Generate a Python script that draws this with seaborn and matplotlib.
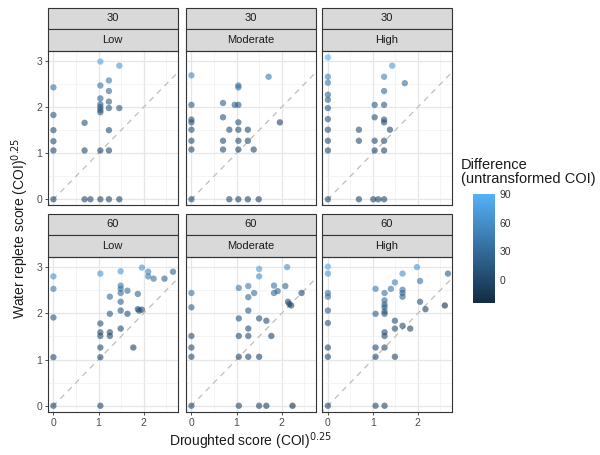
import numpy as np
import pandas as pd
import seaborn as sns
import matplotlib
matplotlib.use("Agg")
import matplotlib.pyplot as plt
from matplotlib.colors import LinearSegmentedColormap, Normalize
from matplotlib.patches import Rectangle
import matplotlib.cm as cm

sns.set_theme(style="white")
plt.rcParams['font.family'] = ['Liberation Sans', 'DejaVu Sans']

days = ["30", "60"]
levels = ["Low", "Moderate", "High"]

# Droughted (x) and water replete (y) scores, (COI)^0.25, read per panel
d30_low_x = [1.04, 1.46, 0, 1.04, 1.23, 1.23, 1.04, 1.04, 1.04, 1.04, 1.04, 1.23, 1.23, 1.46, 0, 0.69, 0, 1.23,
             0, 0, 0.69, 1.04, 1.23, 0, 0.69, 0.82, 1.04, 1.23, 1.46]
d30_low_y = [2.99, 2.90, 2.43, 2.47, 2.58, 2.35, 2.19, 2.06, 2.00, 1.94, 1.89, 2.12, 1.98, 1.98, 1.83, 1.66, 1.50, 1.50,
             1.26, 1.06, 1.06, 1.06, 1.06, 0, 0, 0, 0, 0, 0]

d30_mod_x = [0, 1.71, 1.04, 1.04, 0, 0.70, 0.96, 1.04, 0.70, 0, 0, 1.04, 1.96, 0, 0.84, 1.04, 1.25,
             0, 0.70, 1.04, 1.25, 0, 0.70, 1.04, 1.38, 0, 0.84, 1.04, 1.25, 1.49]
d30_mod_y = [2.69, 2.66, 2.47, 2.43, 2.05, 2.09, 2.05, 2.05, 1.78, 1.73, 1.67, 1.67, 1.67, 1.51, 1.51, 1.51, 1.51,
             1.27, 1.27, 1.27, 1.27, 1.08, 1.08, 1.08, 1.08, 0, 0, 0, 0, 0]

d30_high_x = [0, 1.43, 0, 0, 1.25, 1.71, 1.25, 0, 0, 0, 1.04, 1.25, 0, 1.04, 1.25, 1.25, 0, 0.69, 1.38,
              0, 0.69, 1.04, 1.25, 0, 1.04, 1.25, 0, 0.69, 1.01, 1.12, 1.25]
d30_high_y = [3.08, 2.90, 2.66, 2.53, 2.66, 2.52, 2.35, 2.27, 2.16, 1.98, 2.05, 2.05, 1.74, 1.78, 1.73, 1.67, 1.51, 1.51, 1.51,
              1.27, 1.27, 1.27, 1.27, 1.06, 1.06, 1.06, 0, 0, 0, 0, 0]

d60_low_x = [0, 0, 0, 0, 0, 1.04, 1.04, 1.04, 1.04, 1.04, 1.04, 1.04, 1.25, 1.25, 1.25, 1.25, 1.49, 1.49, 1.49, 1.49,
             1.49, 1.49, 1.49, 1.64, 1.64, 1.77, 1.87, 1.87, 1.90, 1.96, 1.96, 2.10, 2.10, 2.22, 2.46, 2.65]
d60_low_y = [2.80, 2.53, 1.91, 1.05, 0, 2.86, 0, 1.05, 1.26, 1.78, 1.59, 1.51, 1.59, 1.51, 1.99, 2.36, 2.91, 2.60, 2.53, 2.44,
             2.25, 2.06, 1.67, 2.49, 1.99, 1.26, 2.42, 2.09, 2.06, 2.08, 2.99, 2.90, 2.80, 2.75, 2.75, 2.90]

d60_mod_x = [1.50, 2.12, 1.50, 1.05, 1.26, 1.39, 1.83, 1.83, 1.91, 2.08, 2.44, 0, 0, 1.26, 1.26, 2.14, 2.17, 2.21,
             1.05, 1.50, 1.66, 1.26, 0, 1.05, 1.26, 1.77, 0, 0, 1.05, 1.26, 1.50, 0, 1.05, 1.50, 1.66, 2.24]
d60_mod_y = [2.96, 3.00, 2.80, 2.55, 2.59, 2.44, 2.60, 2.44, 2.48, 2.59, 2.44, 2.44, 2.13, 2.35, 2.06, 2.25, 2.20, 2.17,
             1.89, 1.89, 1.84, 1.67, 1.51, 1.51, 1.51, 1.51, 1.26, 1.06, 1.06, 1.06, 1.06, 0, 0, 0, 0, 0]

d60_high_x = [0, 0, 1.98, 2.67, 1.66, 2.05, 1.49, 1.40, 1.06, 1.26, 1.66, 1.66, 1.66, 0, 0, 1.26, 1.26, 1.26, 2.05, 2.60,
              2.17, 0, 1.26, 1.26, 1.06, 0, 1.49, 1.49, 1.66, 1.83, 1.26, 1.26, 0, 1.06, 1.26, 0, 1.06, 1.49, 0, 1.06, 1.26]
d60_high_y = [3.01, 2.86, 3.00, 2.86, 2.86, 2.70, 2.67, 2.53, 2.53, 2.44, 2.51, 2.44, 2.36, 2.44, 2.36, 2.28, 2.19, 2.13, 2.25, 2.17,
              2.09, 2.06, 2.04, 1.99, 1.99, 1.79, 1.84, 1.67, 1.73, 1.67, 1.59, 1.51, 1.26, 1.26, 1.26, 1.06, 1.06, 1.06, 0, 0, 0]

colour_ticks = [0, 30, 60, 90]
x_ticks = [0, 1, 2]
y_ticks = [0, 1, 2, 3]

panels = {
    ("30", "Low"): (d30_low_x, d30_low_y),
    ("30", "Moderate"): (d30_mod_x, d30_mod_y),
    ("30", "High"): (d30_high_x, d30_high_y),
    ("60", "Low"): (d60_low_x, d60_low_y),
    ("60", "Moderate"): (d60_mod_x, d60_mod_y),
    ("60", "High"): (d60_high_x, d60_high_y),
}

frames = []
for (d, lv), (xs, ys) in panels.items():
    frames.append(pd.DataFrame({"days": d, "level": lv, "drought": xs, "water": ys}))
df = pd.concat(frames, ignore_index=True)
df["diff"] = df["water"] ** 4 - df["drought"] ** 4

cmap = LinearSegmentedColormap.from_list("gg", ["#132B43", "#56B1F7"])
norm = Normalize(vmin=-24, vmax=90)

W, H = 600, 455
fig = plt.figure(figsize=(W / 100, H / 100), dpi=100)


def fbox(x0, y0, x1, y1):
    return [x0 / W, 1 - y1 / H, (x1 - x0) / W, (y1 - y0) / H]


col_x = [(47.5, 178), (185.5, 316), (322, 452)]
row_y = [(50.5, 205.5), (256.5, 412)]
strip_h = 21.5

for r, d in enumerate(days):
    for c, lv in enumerate(levels):
        x0, x1 = col_x[c]
        y0, y1 = row_y[r]
        ax = fig.add_axes(fbox(x0, y0, x1, y1))
        sub = df[(df["days"] == d) & (df["level"] == lv)]
        ax.set_xlim(-0.131, 2.76)
        ax.set_ylim(-0.135, 3.23)
        ax.set_xticks(x_ticks)
        ax.set_yticks(y_ticks)
        ax.set_xticks([0.5, 1.5, 2.5], minor=True)
        ax.set_yticks([0.5, 1.5, 2.5], minor=True)
        ax.grid(True, which="major", color="#E6E6E6", lw=0.9)
        ax.grid(True, which="minor", color="#F0F0F0", lw=0.5)
        ax.set_axisbelow(True)
        ax.plot([-1, 4], [-1, 4], ls=(0, (4.5, 4)), color="#BDBDBD", lw=0.9, zorder=1)
        sns.scatterplot(data=sub, x="drought", y="water", hue="diff", palette=cmap, hue_norm=norm,
                        s=21, alpha=0.6, edgecolor="none", linewidth=0, legend=False, ax=ax, zorder=3)
        ax.set_xlabel("")
        ax.set_ylabel("")
        for sp in ax.spines.values():
            sp.set_color("#333333")
            sp.set_linewidth(0.8)
        ax.tick_params(which="minor", length=0)
        ax.tick_params(which="major", length=2.5, width=0.6, color="#333333",
                       labelsize=7.5, labelcolor="#4D4D4D", pad=1.5,
                       left=(c == 0), bottom=(r == 1), labelleft=(c == 0), labelbottom=(r == 1))
        # strips
        ah = y1 - y0
        for k, txt in enumerate([d, lv]):
            sy = 1 + (strip_h * (2 - k) - strip_h) / ah
            rect = Rectangle((0, sy), 1, strip_h / ah, transform=ax.transAxes, clip_on=False,
                             facecolor="#D9D9D9", edgecolor="#333333", lw=0.8)
            ax.add_patch(rect)
            ax.text(0.5, sy + strip_h / ah / 2, txt, transform=ax.transAxes, ha="center", va="center",
                    fontsize=8, color="#1A1A1A")

fig.text(250 / W, 1 - 441 / H, r"Droughted score (COI)$^{0.25}$", ha="center", va="center", fontsize=10, color="#1A1A1A")
fig.text(20 / W, 1 - 228 / H, r"Water replete score (COI)$^{0.25}$", ha="center", va="center", rotation=90,
         fontsize=10, color="#1A1A1A")

# colourbar
cax = fig.add_axes(fbox(473, 194, 495, 303))
cb = fig.colorbar(cm.ScalarMappable(norm=norm, cmap=cmap), cax=cax, ticks=colour_ticks)
cb.outline.set_visible(False)
cax.tick_params(length=3, width=0.6, color="white", direction="in", labelsize=7.5, labelcolor="#333333", pad=3)
fig.text(461 / W, 1 - 172 / H, "Difference\n(untransformed COI)", ha="left", va="center", fontsize=10.5,
         color="#1A1A1A", linespacing=1.05)

fig.savefig("out.png", dpi=100)
